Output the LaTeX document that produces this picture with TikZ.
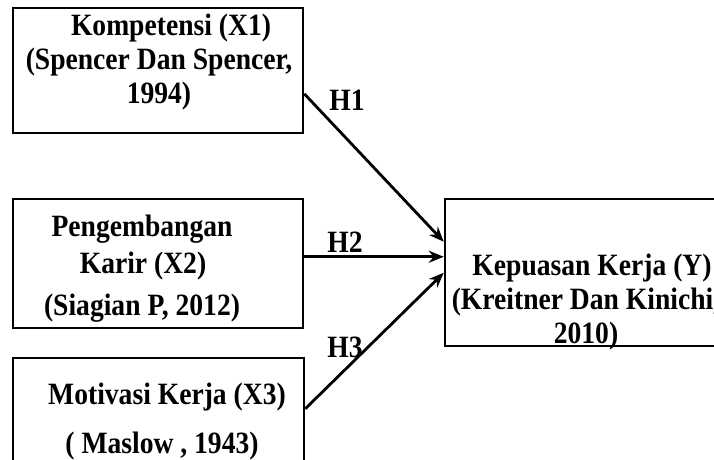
\documentclass[tikz,border=0pt]{standalone}
\usepackage{fontspec}
\setmainfont[FakeStretch=0.89]{Liberation Serif}
\usepackage{tikz}
\usetikzlibrary{arrows.meta,positioning}

\begin{document}
\begin{tikzpicture}[x=1pt,y=-1pt,
    box/.style={rectangle,draw,line width=2.5pt,inner sep=0pt},
    txt/.style={align=center,inner sep=0pt,font=\fontsize{31}{34}\selectfont\bfseries},
    hyp/.style={-{Stealth[length=15pt,width=12pt]},line width=2.8pt}]

    \useasboundingbox (0,0) rectangle (714,459);
    \clip (0,0) rectangle (714,459);

    % boxes
    \node[box,minimum width=290pt,minimum height=125pt] (k1) at (158,70.5) {};
    \node[box,minimum width=290pt,minimum height=129pt] (k2) at (158,263.5) {};
    \node[box,minimum width=291pt,minimum height=130pt] (k3) at (158.5,423) {};
    \node[box,minimum width=320pt,minimum height=147pt] (ky) at (605,272.5) {};

    % texts
    \node[txt] (t1) at (159,62) {\hspace*{24pt}Kompetensi (X1)\\(Spencer Dan Spencer,\\1994)};
    \node[txt] (t2) at (142,229) {Pengembangan};
    \node[txt] (t2b) at (143,266) {Karir (X2)};
    \node[txt] (t2c) at (142,308) {(Siagian P, 2012)};
    \node[txt] (t3) at (167,397) {Motivasi Kerja (X3)};
    \node[txt] (t3b) at (162,446) {( Maslow , 1943)};
    \node[txt] (ty) at (586,302) {\hspace*{12pt}Kepuasan Kerja (Y)\\(Kreitner Dan Kinichi,\\2010)};

    % connectors
    \coordinate (s1) at ([yshift=-87pt]k1.north east);
    \coordinate (s2) at ([yshift=-59pt]k2.north east);
    \coordinate (s3) at ([yshift=-52pt]k3.north east);
    \coordinate (e1) at ([yshift=-44pt]ky.north west);
    \coordinate (e2) at ([yshift=-59pt]ky.north west);
    \coordinate (e3) at ([yshift=-75pt]ky.north west);
    \draw[hyp] (s1) -- (e1);
    \draw[hyp] (s2) -- (e2);
    \draw[hyp] (s3) -- (e3);

    % labels
    \node[txt] (h1) at (347,100) {H1};
    \node[txt] (h2) at (345,242) {H2};
    \node[txt] (h3) at (345,347) {H3};
\end{tikzpicture}
\end{document}
